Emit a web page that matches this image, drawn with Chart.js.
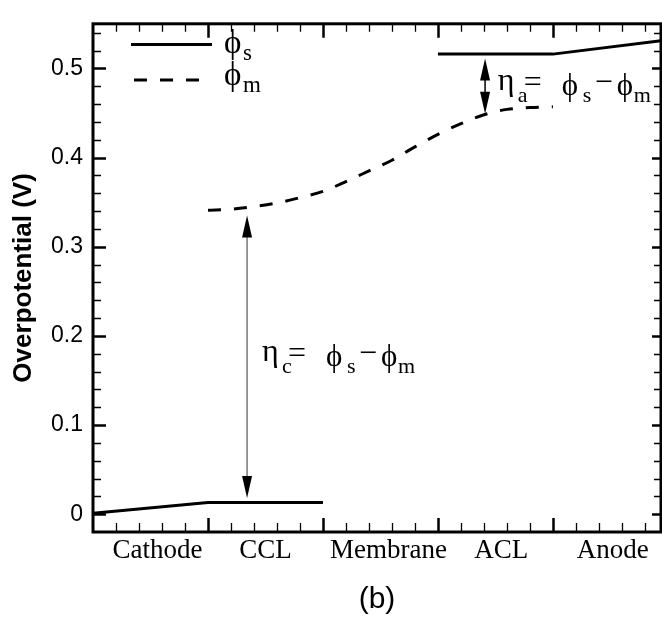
<!DOCTYPE html>
<html>
<head>
<meta charset="utf-8">
<script src="https://cdn.jsdelivr.net/npm/chart.js@4.4.0/dist/chart.umd.min.js"></script>
<style>
  html, body { margin: 0; padding: 0; background: #fff; }
  #wrap { width: 662px; height: 627px; }
</style>
</head>
<body>
<div id="wrap"><canvas id="chart"></canvas></div>
<script>
// phi_s (solid) - no value across the membrane
const phiSX = [0, 1, 2, 2.5, 3, 4, 4.94];
const phiSY = [0.001, 0.013, 0.013, null, 0.516, 0.516, 0.531];

// phi_m (dashed) - CCL through ACL
const phiMX = [1, 1.2, 1.4, 1.6, 1.8, 2, 2.2, 2.4, 2.6, 2.8, 3, 3.2, 3.4, 3.6, 3.8, 4];
const phiMY = [0.341, 0.342, 0.345, 0.349, 0.355, 0.362, 0.373, 0.385, 0.397, 0.412, 0.426, 0.438, 0.448, 0.454, 0.456, 0.457];

// regions along x
const regionNames = ['Cathode', 'CCL', 'Membrane', 'ACL', 'Anode'];
const regionLabelX = [0.56, 1.5, 2.57, 3.55, 4.52];

// overpotential arrows (x, upper tip, lower tip)
const arrowX = [1.34, 3.41];
const arrowTop = [0.335, 0.511];
const arrowBottom = [0.018, 0.449];
const arrowColor = ['#777', '#000'];

// eta labels: left edge / baseline in data units
const etaX = [1.47, 3.52];
const etaY = [0.170, 0.473];
const etaSub = ['c', 'a'];

const SERIF = '"Liberation Serif", "DejaVu Serif", "Times New Roman", serif';
const SANS = '"Liberation Sans", Arial, sans-serif';
const PHI = '\u03D5';

function drawPieces(ctx, x0, y0, pieces) {
    // pieces: [text, dx, dy, size]
    pieces.forEach(p => {
        ctx.font = p[3] + 'px ' + SERIF;
        ctx.fillText(p[0], x0 + p[1], y0 + p[2]);
    });
}

function arrowHead(ctx, x, y, dir) {
    // dir = -1 points up, +1 points down
    ctx.beginPath();
    ctx.moveTo(x, y);
    ctx.lineTo(x - 5, y - dir * 22);
    ctx.lineTo(x + 5, y - dir * 22);
    ctx.closePath();
    ctx.fill();
}

const decorations = {
    id: 'decorations',
    afterDatasetsDraw(chart) {
        const { ctx, chartArea: a, scales: { x, y } } = chart;
        ctx.save();
        ctx.strokeStyle = '#000';
        ctx.fillStyle = '#000';

        // x ticks (bottom + top), pointing inward
        for (let i = 1; i * 0.2 < x.max - 1e-6; i++) {
            const px = Math.round(x.getPixelForValue(i * 0.2)) + 0.5;
            const major = i % 5 === 0;
            ctx.lineWidth = major ? 2.5 : 1.3;
            ctx.beginPath();
            ctx.moveTo(px, a.bottom);
            ctx.lineTo(px, a.bottom - (major ? 14 : 9));
            ctx.moveTo(px, a.top);
            ctx.lineTo(px, a.top + (major ? 14 : 8));
            ctx.stroke();
        }
        // y ticks (left + right)
        for (let i = 0; i * 0.02 < y.max - 1e-6; i++) {
            const py = Math.round(y.getPixelForValue(i * 0.02)) + 0.5;
            const major = i % 5 === 0;
            ctx.lineWidth = major ? 2.5 : 1.3;
            ctx.beginPath();
            ctx.moveTo(a.left, py);
            ctx.lineTo(a.left + (major ? 13 : 8), py);
            ctx.moveTo(a.right, py);
            ctx.lineTo(a.right - (major ? 9 : 7), py);
            ctx.stroke();
        }
        // frame
        ctx.lineWidth = 3;
        ctx.strokeRect(a.left, a.top, a.right - a.left, a.bottom - a.top);

        // legend
        ctx.lineWidth = 3;
        ctx.beginPath();
        ctx.moveTo(a.left + 38, 44.5);
        ctx.lineTo(a.left + 119, 44.5);
        ctx.stroke();
        ctx.setLineDash([13, 13]);
        ctx.beginPath();
        ctx.moveTo(a.left + 41, 80);
        ctx.lineTo(a.left + 107, 80);
        ctx.stroke();
        ctx.setLineDash([]);
        ctx.textBaseline = 'alphabetic';
        ctx.textAlign = 'left';
        drawPieces(ctx, a.left + 131, 53, [[PHI, 0, 0, 33], ['s', 19, 7, 23]]);
        drawPieces(ctx, a.left + 131, 85, [[PHI, 0, 0, 33], ['m', 19, 7, 23]]);

        // arrows
        arrowX.forEach((v, i) => {
            const px = x.getPixelForValue(v);
            const pt = y.getPixelForValue(arrowTop[i]);
            const pb = y.getPixelForValue(arrowBottom[i]);
            ctx.strokeStyle = arrowColor[i];
            ctx.lineWidth = 1.5;
            ctx.beginPath();
            ctx.moveTo(px, pt + 10);
            ctx.lineTo(px, pb - 10);
            ctx.stroke();
            arrowHead(ctx, px, pt, -1);
            arrowHead(ctx, px, pb, 1);
        });

        // eta = phi_s - phi_m
        etaX.forEach((v, i) => {
            const px = x.getPixelForValue(v);
            const py = y.getPixelForValue(etaY[i]);
            drawPieces(ctx, px, py, [
                ['η', 0, -2, 32], [etaSub[i], 20, 10, 22], ['=', 26, 0, 32],
                [PHI, 64, 3, 31], ['s', 85, 10, 22], ['−', 97, 0, 32],
                [PHI, 119, 3, 31], ['m', 136, 10, 22]
            ]);
        });
        ctx.restore();
    }
};

const ctx = document.getElementById('chart').getContext('2d');
new Chart(ctx, {
    type: 'line',
    data: {
        datasets: [{
            label: 'φs',
            data: phiSX.map((v, i) => ({ x: v, y: phiSY[i] })),
            borderColor: '#000',
            borderWidth: 3,
            pointRadius: 0,
            spanGaps: false,
            tension: 0
        }, {
            label: 'φm',
            data: phiMX.map((v, i) => ({ x: v, y: phiMY[i] })),
            borderColor: '#000',
            borderWidth: 3,
            borderDash: [13, 13],
            pointRadius: 0,
            cubicInterpolationMode: 'monotone'
        }]
    },
    options: {
        responsive: true,
        maintainAspectRatio: false,
        animation: false,
        layout: { padding: { top: 8, right: 1, left: 0, bottom: 0 } },
        plugins: { legend: { display: false }, tooltip: { enabled: false } },
        scales: {
            x: {
                type: 'linear',
                min: 0,
                max: 4.94,
                grid: { display: false, drawTicks: false },
                border: { display: false },
                afterBuildTicks: scale => {
                    scale.ticks = regionLabelX.map(v => ({ value: v }));
                },
                afterFit: scale => { scale.height = 95; },
                ticks: {
                    autoSkip: false,
                    maxRotation: 0,
                    padding: 3,
                    color: '#000',
                    font: { family: SERIF, size: 27 },
                    callback: (v, i) => regionNames[i]
                },
                title: {
                    display: true,
                    text: '(b)',
                    color: '#000',
                    padding: 9,
                    font: { family: SANS, size: 30 }
                }
            },
            y: {
                min: -0.02,
                max: 0.55,
                grid: { display: false, drawTicks: false },
                border: { display: false },
                afterFit: scale => { scale.width = 93; },
                ticks: {
                    stepSize: 0.1,
                    includeBounds: false,
                    padding: 10,
                    color: '#000',
                    font: { family: SANS, size: 23 },
                    callback: v => (Math.abs(v) < 1e-9 ? '0' : v.toFixed(1))
                },
                title: {
                    display: true,
                    text: 'Overpotential (V)',
                    color: '#000',
                    padding: 8,
                    font: { family: SANS, size: 26, weight: 'bold' }
                }
            }
        }
    },
    plugins: [decorations]
});
</script>
</body>
</html>
